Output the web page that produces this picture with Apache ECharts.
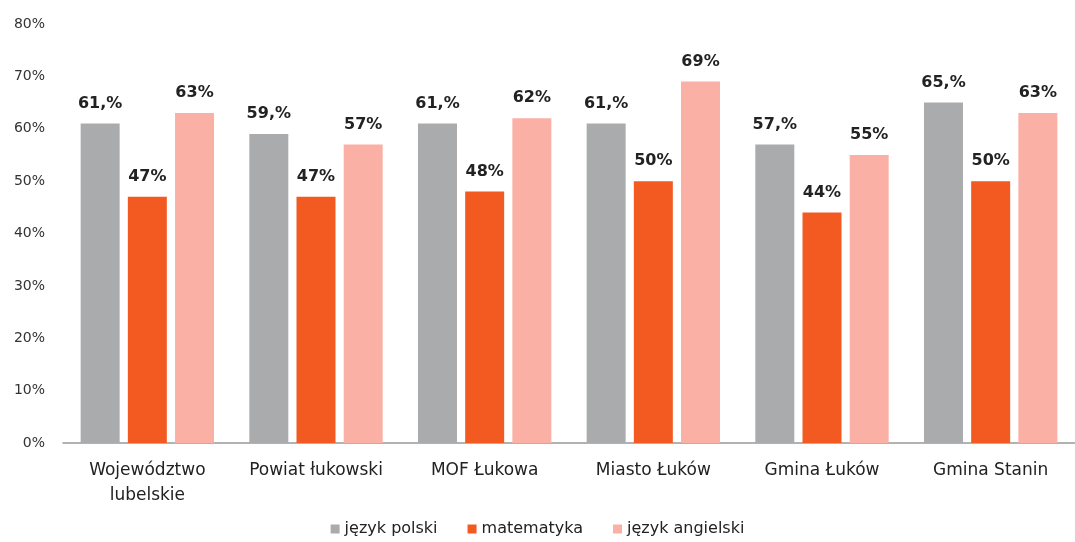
<!DOCTYPE html>
<html><head><meta charset="utf-8">
<script src="https://cdn.jsdelivr.net/npm/echarts@6/dist/echarts.min.js"></script>
<style>html,body{margin:0;padding:0;background:#fff}#c{width:1075px;height:542px}</style>
</head><body><div id="c"></div>
<script>
var categories = ['Województwo\nlubelskie', 'Powiat łukowski', 'MOF Łukowa', 'Miasto Łuków', 'Gmina Łuków', 'Gmina Stanin'];
var seriesNames = ['język polski', 'matematyka', 'język angielski'];
var polski = [61, 59, 61, 61, 57, 65];
var matematyka = [47, 47, 48, 50, 44, 50];
var angielski = [63, 57, 62, 69, 55, 63];
var polskiLabels = ['61,%', '59,%', '61,%', '61,%', '57,%', '65,%'];
var matematykaLabels = ['47%', '47%', '48%', '50%', '44%', '50%'];
var angielskiLabels = ['63%', '57%', '62%', '69%', '55%', '63%'];
var yTicks = [0, 10, 20, 30, 40, 50, 60, 70, 80];

var colors = ['#a9abad', '#f25a22', '#fbb0a6'];
var font = '"DejaVu Sans", sans-serif';
function mk(name, data, labels, color) {
  return {
    name: name, type: 'bar', data: data, barWidth: 39, barGap: '21%',
    itemStyle: { color: color },
    label: { show: true, position: 'top', distance: 12,
      formatter: function (p) { return labels[p.dataIndex]; },
      fontFamily: font, fontWeight: 'bold', fontSize: 16, color: '#222' }
  };
}
var chart = echarts.init(document.getElementById('c'));
chart.setOption({
  animation: false,
  color: colors,
  grid: { left: 63, width: 1029, top: 24, bottom: 99 },
  legend: { bottom: 0, left: 'center', itemWidth: 9, itemHeight: 9, itemGap: 30,
    icon: 'rect',
    textStyle: { fontFamily: font, fontSize: 16, color: '#222' }, data: seriesNames },
  xAxis: { type: 'category', data: categories,
    axisLine: { lineStyle: { color: '#999', width: 1.5 } },
    axisTick: { show: false },
    axisLabel: { fontFamily: font, fontSize: 17, color: '#222', margin: 15, lineHeight: 25, interval: 0 } },
  yAxis: { type: 'value', min: yTicks[0], max: yTicks[yTicks.length - 1], interval: 10,
    axisLine: { show: false }, axisTick: { show: false }, splitLine: { show: false },
    axisLabel: { formatter: '{value}%', fontFamily: font, fontSize: 14, color: '#333', margin: 18 } },
  series: [
    mk(seriesNames[0], polski, polskiLabels, colors[0]),
    mk(seriesNames[1], matematyka, matematykaLabels, colors[1]),
    mk(seriesNames[2], angielski, angielskiLabels, colors[2])
  ]
});
</script></body></html>
